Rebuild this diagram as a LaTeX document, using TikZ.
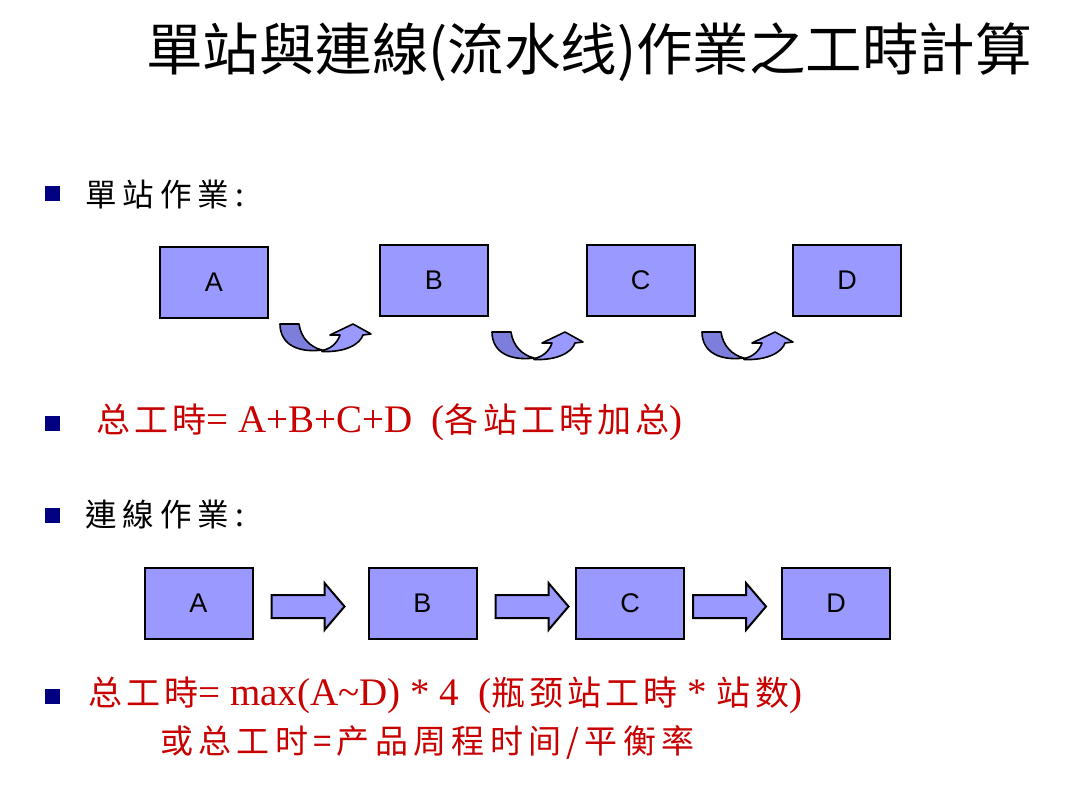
\documentclass[tikz,border=0pt]{standalone}
\usepackage{fontspec}
\setmainfont{Liberation Serif}
\newfontfamily\tcfont{Noto Sans CJK TC}
\newfontfamily\tcsp[LetterSpace=19]{Noto Sans CJK TC}
\newfontfamily\scfont[LetterSpace=12]{Noto Sans CJK SC}
\newfontfamily\scwide[LetterSpace=16]{Noto Sans CJK SC}
\newfontfamily\arial{Liberation Sans}
\newcommand{\cjk}[1]{{\scfont\fontsize{34}{34}\selectfont #1}}
\definecolor{boxblue}{RGB}{153,153,255}
\definecolor{arrdark}{RGB}{125,125,220}
\definecolor{navy}{RGB}{0,0,128}
\definecolor{redtxt}{RGB}{200,0,0}
\begin{document}
\begin{tikzpicture}[x=1pt,y=-1pt,
  box/.style={draw=black, line width=2pt, fill=boxblue, minimum width=108pt, minimum height=71pt, inner sep=0pt, font=\arial\fontsize{27}{27}\selectfont},
  bulletsq/.style={fill=navy, minimum size=15pt, inner sep=0pt},
  head/.style={font=\tcsp\fontsize{31.5}{31.5}\selectfont, anchor=west, inner sep=0pt},
  redline/.style={text=redtxt, anchor=west, inner sep=0pt, font=\fontsize{39}{39}\selectfont},
  curvedarrow/.pic={
    \filldraw[fill=arrdark, draw=black, line width=1.6pt, line join=round]
      (0,0) -- (19,0) .. controls (21,14) and (30,23) .. (42,26)
      .. controls (19,29) and (0,21) .. (0,0) -- cycle;
    \filldraw[fill=boxblue, draw=black, line width=1.6pt, line join=round]
      (42,27.5) .. controls (66,28.5) and (80,20) .. (83,11) -- (91,10) -- (73,0) -- (50,11) -- (60,11)
      .. controls (57,20) and (50,25) .. (42,26.5) -- cycle;
  },
  blockarrow/.pic={
    \filldraw[fill=boxblue, draw=black, line width=2pt, line join=miter]
      (0,-11.5) -- (53,-11.5) -- (53,-23.5) -- (73,0) -- (53,23.5) -- (53,11.5) -- (0,11.5) -- cycle;
  }]
\path[use as bounding box, fill=white] (0,0) rectangle (1080,802);

% title
\node[font=\tcfont\fontsize{56.5}{56.5}\selectfont, inner sep=0pt] (title) at (589,52) {單站與連線(流水线)作業之工時計算};

% bullets
\node[bulletsq] (b1) at (52,194) {};
\node[bulletsq] (b2) at (52,424) {};
\node[bulletsq] (b3) at (52,515) {};
\node[bulletsq] (b4) at (52,696) {};

\node[head] (h1) at (85,195) {單站作業:};
\node[head] (h2) at (85,515) {連線作業:};

% row 1 boxes
\node[box] (A1) at (214,282.5) {A};
\node[box] (B1) at (434,280.5) {B};
\node[box] (C1) at (640.5,280.5) {C};
\node[box] (D1) at (847,280.5) {D};

\pic at (280,324) {curvedarrow};
\pic at (492,332) {curvedarrow};
\pic at (702,332) {curvedarrow};

% row 2 boxes
\node[box] (A2) at (198.5,603.5) {A};
\node[box] (B2) at (422.5,603.5) {B};
\node[box] (C2) at (630,603.5) {C};
\node[box] (D2) at (836,603.5) {D};

\pic at ([xshift=18pt,yshift=-3pt]A2.east) {blockarrow};
\pic at ([xshift=18pt,yshift=-3pt]B2.east) {blockarrow};
\pic at ([xshift=8pt,yshift=-3pt]C2.east) {blockarrow};

% red lines
\node[redline] (r1) at (96,422) {\cjk{总工時}= A+B+C+D\ \ (\cjk{各站工時加总})};
\node[redline] (r2) at (88,695) {\cjk{总工時}= max(A\textasciitilde D) * 4\ \ (\cjk{瓶颈站工時} * \cjk{站数})};
\node[redline, font=\scwide\fontsize{33}{33}\selectfont] (r3) at (160,742) {或总工时=产品周程时间/平衡率};
\end{tikzpicture}
\end{document}
